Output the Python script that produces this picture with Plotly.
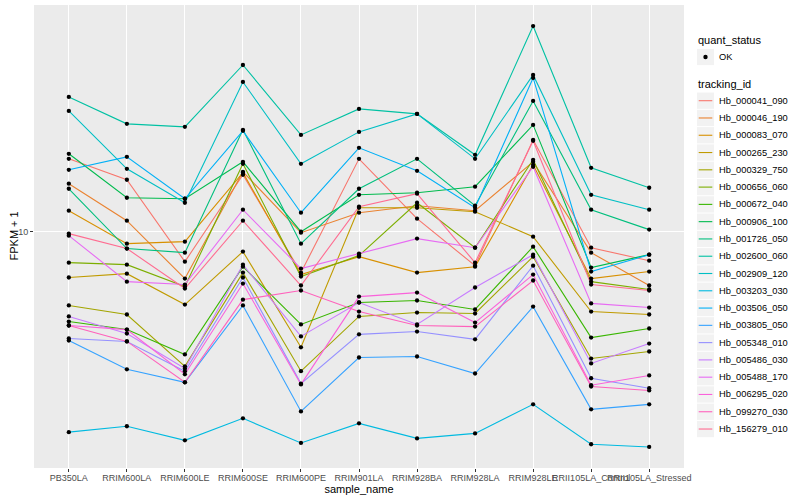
import math
import plotly.graph_objects as go

samples = ["PB350LA", "RRIM600LA", "RRIM600LE", "RRIM600SE", "RRIM600PE", "RRIM901LA",
           "RRIM928BA", "RRIM928LA", "RRIM928LE", "RRII105LA_Control", "RRII105LA_Stressed"]

tracking_ids = ["Hb_000041_090", "Hb_000046_190", "Hb_000083_070", "Hb_000265_230",
                "Hb_000329_750", "Hb_000656_060", "Hb_000672_040", "Hb_000906_100",
                "Hb_001726_050", "Hb_002600_060", "Hb_002909_120", "Hb_003203_030",
                "Hb_003506_050", "Hb_003805_050", "Hb_005348_010", "Hb_005486_030",
                "Hb_005488_170", "Hb_006295_020", "Hb_099270_030", "Hb_156279_010"]

colors = ["#F8766D", "#EA8331", "#D89000", "#C09B00", "#A3A500", "#7CAE00", "#39B600",
          "#00BB4E", "#00BF7D", "#00C1A3", "#00BFC4", "#00BAE0", "#00B0F6", "#35A2FF",
          "#9590FF", "#C77CFF", "#E76BF3", "#FA62DB", "#FF62BC", "#FF6C91"]

quant_status = ["OK"]

# FPKM + 1 values per tracking_id (one value per sample)
hb_000041_090 = [17.51, 14.91, 7.94, 15.49, 7.30, 17.51, 11.05, 7.70, 20.26, 8.84, 8.00]
hb_000046_190 = [14.46, 10.88, 6.97, 15.85, 9.92, 11.57, 12.21, 11.75, 17.11, 8.51, 6.61]
hb_000083_070 = [11.75, 9.12, 9.26, 15.73, 7.19, 8.25, 7.30, 7.64, 16.72, 6.97, 7.36]
hb_000265_230 = [7.03, 7.24, 5.71, 8.58, 4.11, 12.02, 12.02, 11.66, 9.62, 5.41, 5.29]
hb_000329_750 = [5.67, 5.29, 3.55, 7.30, 3.42, 5.21, 5.37, 5.33, 8.25, 3.77, 3.98]
hb_000656_060 = [7.88, 7.76, 6.56, 16.85, 7.08, 8.32, 12.49, 8.84, 17.38, 6.81, 6.41]
hb_000672_040 = [5.01, 4.71, 3.89, 7.64, 4.90, 5.80, 5.89, 5.50, 8.91, 4.43, 4.75]
hb_000906_100 = [18.20, 12.98, 12.88, 17.11, 10.00, 13.28, 13.49, 14.13, 22.73, 7.59, 8.38]
hb_001726_050 = [13.91, 8.78, 8.51, 21.88, 9.12, 13.91, 17.51, 12.21, 27.33, 11.84, 10.16]
hb_002600_060 = [28.19, 22.91, 22.39, 36.03, 21.05, 25.70, 24.74, 18.06, 48.61, 16.34, 14.02]
hb_002909_120 = [25.31, 16.22, 12.49, 31.62, 16.85, 21.54, 24.74, 17.51, 33.37, 13.28, 11.84]
hb_003203_030 = [2.14, 2.24, 2.01, 2.38, 1.97, 2.29, 2.04, 2.12, 2.65, 1.95, 1.91]
hb_003506_050 = [16.09, 17.78, 12.88, 21.71, 11.57, 19.05, 15.97, 12.02, 32.61, 7.36, 8.38]
hb_003805_050 = [4.33, 3.47, 3.14, 5.67, 2.51, 3.80, 3.83, 3.36, 5.62, 2.55, 2.65]
hb_005348_010 = [4.40, 4.30, 3.42, 7.03, 3.11, 4.54, 4.64, 4.37, 7.70, 3.24, 3.00]
hb_005486_030 = [5.21, 4.57, 3.49, 7.76, 4.47, 5.80, 4.90, 6.51, 8.38, 3.63, 4.23]
hb_005488_170 = [9.70, 6.81, 6.66, 11.84, 7.53, 8.45, 9.48, 8.84, 16.47, 5.76, 5.58]
hb_006295_020 = [4.86, 4.71, 3.34, 6.71, 3.09, 6.07, 6.26, 4.97, 7.19, 3.07, 3.31]
hb_099270_030 = [4.86, 4.30, 3.14, 5.93, 6.36, 5.41, 4.86, 4.82, 6.87, 3.04, 2.95]
hb_156279_010 = [9.85, 8.78, 6.46, 10.88, 6.61, 12.12, 13.39, 7.88, 20.11, 6.66, 6.36]

series = [hb_000041_090, hb_000046_190, hb_000083_070, hb_000265_230, hb_000329_750,
          hb_000656_060, hb_000672_040, hb_000906_100, hb_001726_050, hb_002600_060,
          hb_002909_120, hb_003203_030, hb_003506_050, hb_003805_050, hb_005348_010,
          hb_005486_030, hb_005488_170, hb_006295_020, hb_099270_030, hb_156279_010]

y_ticks = [10]
y_tick_labels = ["10"]

FONT = "Liberation Sans"
W, H = 800, 500
PL, PR, PT, PB = 34, 684, 5, 468   # panel edges in pixels

fig = go.Figure()

for name, col, vals in zip(tracking_ids, colors, series):
    fig.add_trace(go.Scatter(
        x=samples, y=vals, mode="lines", name=name,
        line=dict(color=col, width=1.1), showlegend=False,
        hovertemplate="%{x}<br>%{y}<extra>" + name + "</extra>",
    ))

all_x = [s for vals in series for s in samples]
all_y = [v for vals in series for v in vals]
fig.add_trace(go.Scatter(
    x=all_x, y=all_y, mode="markers", name=quant_status[0],
    marker=dict(color="black", size=4.3), showlegend=False,
))

lo = math.log10(min(all_y))
hi = math.log10(max(all_y))
pad = (hi - lo) * 0.05

# ---- legend and y title drawn in ggplot style (layout only) ----
def px(x):
    return (x - PL) / (PR - PL)

def py(y):
    return (PB - y) / (PB - PT)

shapes = []
annotations = []
KX0, KX1 = 697, 714
STEP = 17.28

annotations.append(dict(x=px(13), y=py(236.5), xref="paper", yref="paper", text="FPKM + 1",
                        textangle=-90, showarrow=False, xanchor="center", yanchor="middle",
                        font=dict(family=FONT, size=11, color="black")))

def title(text, y):
    annotations.append(dict(x=px(695.5), y=py(y), xref="paper", yref="paper", text=text,
                            showarrow=False, xanchor="left", yanchor="middle",
                            font=dict(family=FONT, size=11, color="black")))

def label(text, y):
    annotations.append(dict(x=px(716.5), y=py(y), xref="paper", yref="paper", text=text,
                            showarrow=False, xanchor="left", yanchor="middle",
                            font=dict(family=FONT, size=9.3, color="black")))

def keybox(cy):
    shapes.append(dict(type="rect", xref="paper", yref="paper",
                       x0=px(KX0), x1=px(KX1), y0=py(cy - STEP / 2 + 0.5), y1=py(cy + STEP / 2 - 0.5),
                       fillcolor="#F2F2F2", line=dict(width=0), layer="above"))

title("quant_status", 40)
ok_y = 57
keybox(ok_y)
shapes.append(dict(type="circle", xref="paper", yref="paper",
                   x0=px(705.5 - 2.2), x1=px(705.5 + 2.2), y0=py(ok_y + 2.2), y1=py(ok_y - 2.2),
                   fillcolor="black", line=dict(width=0), layer="above"))
label(quant_status[0], ok_y)

title("tracking_id", 84.5)
for i, (name, col) in enumerate(zip(tracking_ids, colors)):
    cy = 100.7 + STEP * i
    keybox(cy)
    shapes.append(dict(type="line", xref="paper", yref="paper",
                       x0=px(698.7), x1=px(712.3), y0=py(cy), y1=py(cy),
                       line=dict(color=col, width=1.1), layer="above"))
    label(name, cy)

fig.update_layout(
    width=W, height=H,
    margin=dict(l=PL, r=W - PR, t=PT, b=H - PB, autoexpand=False),
    paper_bgcolor="white",
    plot_bgcolor="#EBEBEB",
    font=dict(family=FONT, size=9, color="#4D4D4D"),
    showlegend=False,
    shapes=shapes,
    annotations=annotations,
    xaxis=dict(
        type="category", range=[-0.6, 10.6],
        showgrid=True, gridcolor="white", gridwidth=1.1,
        ticks="outside", ticklen=3, tickcolor="#333333", tickwidth=1,
        tickangle=0, tickfont=dict(size=9, color="#4D4D4D", family=FONT),
        ticklabelstandoff=-2,
        title=dict(text="sample_name", font=dict(size=11, color="black", family=FONT), standoff=0),
        showline=False, zeroline=False, automargin=False,
    ),
    yaxis=dict(
        type="log", range=[lo - pad, hi + pad],
        tickvals=y_ticks, ticktext=y_tick_labels,
        showgrid=True, gridcolor="white", gridwidth=1.1,
        ticks="outside", ticklen=3, tickcolor="#333333", tickwidth=1,
        tickfont=dict(size=9, color="#4D4D4D", family=FONT),
        showline=False, zeroline=False, automargin=False,
    ),
)

fig.write_html("out.html",
               config={"displayModeBar": False},
               post_script="document.body.style.margin='0';document.body.style.overflow='hidden';")
